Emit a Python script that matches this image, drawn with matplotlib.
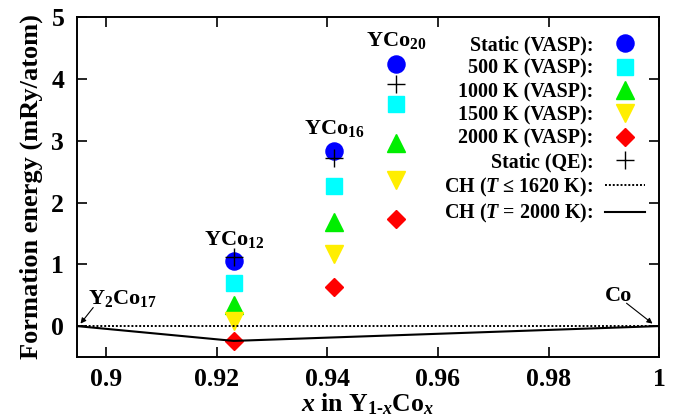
import matplotlib
matplotlib.use('Agg')
import matplotlib.pyplot as plt

plt.rcParams['font.family'] = 'Liberation Serif'
plt.rcParams['font.weight'] = 'bold'
plt.rcParams['mathtext.fontset'] = 'custom'
plt.rcParams['mathtext.rm'] = 'Liberation Serif:bold'
plt.rcParams['mathtext.it'] = 'Liberation Serif:italic:bold'
plt.rcParams['mathtext.bf'] = 'Liberation Serif:bold'

# compositions x in Y(1-x)Co(x)
compounds = ['YCo$_{12}$', 'YCo$_{16}$', 'YCo$_{20}$']
x_comp = [12 / 13, 16 / 17, 20 / 21]

static_vasp = [1.06, 2.83, 4.24]
k500_vasp = [0.69, 2.26, 3.59]
k1000_vasp = [0.34, 1.68, 2.96]
k1500_vasp = [0.09, 1.16, 2.36]
k2000_vasp = [-0.24, 0.63, 1.74]
static_qe = [1.11, 2.72, 3.92]

# convex hulls
hull_low_x = [17 / 19, 1.0]
hull_low_y = [0.0, 0.0]
hull_2000_x = [17 / 19, 12 / 13, 1.0]
hull_2000_y = [0.0, -0.24, 0.0]

label_y = [1.4, 3.2, 4.62]

fig = plt.figure(figsize=(6.74, 4.18), dpi=100)
ax = fig.add_axes([0.114, 0.146, 0.864, 0.813])

ms = 11.5
ax.plot(x_comp, static_vasp, 'o', color='#0000ff', ms=ms + 0.8, label='Static (VASP):')
ax.plot(x_comp, k500_vasp, 's', color='#00ffff', ms=ms, label='500 K (VASP):')
ax.plot(x_comp, k1000_vasp, '^', color='#00ee00', ms=ms + 1, label='1000 K (VASP):')
ax.plot(x_comp, k1500_vasp, 'v', color='#ffee00', ms=ms + 1, label='1500 K (VASP):')
ax.plot(x_comp, k2000_vasp, 'D', color='#ff0000', ms=ms - 2.5, label='2000 K (VASP):')
ax.plot(x_comp, static_qe, '+', color='black', ms=ms + 2, mew=1.0, label='Static (QE):')
ax.plot(hull_low_x, hull_low_y, color='black', lw=1.4, linestyle=(0, (1, 1)),
        label='CH ($T$ ≤ 1620 K):')
ax.plot(hull_2000_x, hull_2000_y, '-', color='black', lw=1.5, label='CH ($T$ = 2000 K):')

for name, xc, yl in zip(compounds, x_comp, label_y):
    ax.text(xc, yl, name, ha='center', va='center', fontsize=16, fontweight='bold')

arrow = dict(arrowstyle='-|>', color='black', lw=0.8, mutation_scale=8,
             shrinkA=0, shrinkB=0)
ax.text(0.9030, 0.45, 'Y$_2$Co$_{17}$', ha='center', va='center', fontsize=16,
        fontweight='bold')
ax.annotate('', xy=(0.8954, 0.04), xytext=(0.8977, 0.30), arrowprops=arrow)
ax.text(0.9927, 0.48, 'Co', ha='center', va='center', fontsize=16, fontweight='bold')
ax.annotate('', xy=(0.9988, 0.04), xytext=(0.9941, 0.37), arrowprops=arrow)

ax.set_xlim(17 / 19, 1.0)
ax.set_ylim(-0.5, 5)
ax.set_xticks([0.9, 0.92, 0.94, 0.96, 0.98, 1.0])
ax.set_xticklabels(['0.9', '0.92', '0.94', '0.96', '0.98', '1'])
ax.set_yticks([0, 1, 2, 3, 4, 5])
ax.tick_params(direction='in', top=True, right=True, length=7, width=1.2,
               labelsize=18.5)
ax.tick_params(axis='y', pad=9)
ax.tick_params(axis='x', pad=8)
for sp in ax.spines.values():
    sp.set_linewidth(1.4)

ax.set_xlabel('$x$ in Y$_{1\\text{-}x}$Co$_x$', fontsize=18.5, fontweight='bold', labelpad=0)
ax.set_ylabel('Formation energy (mRy/atom)', fontsize=19, fontweight='bold', labelpad=6)

ax.legend(loc='upper right', bbox_to_anchor=(1.0, 0.988), frameon=False,
          markerfirst=False, fontsize=14.4, handlelength=2.0, labelspacing=0.17,
          borderaxespad=0.3, handletextpad=0.6, numpoints=1, borderpad=0.4)

fig.savefig('out.png', dpi=100)
